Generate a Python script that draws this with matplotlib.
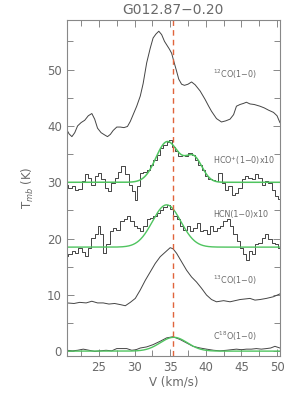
import numpy as np
import matplotlib
matplotlib.use("Agg")
import matplotlib.pyplot as plt
from matplotlib.ticker import MultipleLocator

# ---------------- data ----------------
title = "G012.87\u22120.20"
v_sys = 35.4

co12_v = [20.5, 20.8, 21.2, 21.6, 22.0, 22.5, 23.0, 23.5, 24.0, 24.4, 24.8, 25.3, 25.8, 26.2,
          26.6, 27.0, 27.5, 28.0, 28.5, 29.0, 29.4, 29.8, 30.3, 30.8, 31.2, 31.7, 32.2, 32.6,
          33.0, 33.4, 33.8, 34.2, 34.5, 34.9, 35.2, 35.5, 35.9, 36.2, 36.6, 37.0, 37.5, 38.0,
          38.5, 39.2, 39.9, 40.4, 40.8, 41.5, 42.2, 42.8, 43.4, 43.9, 44.3, 44.8, 45.3, 45.7,
          46.2, 46.8, 47.6, 48.2, 48.8, 49.5, 50.0, 50.4]
co12_t = [39.3, 38.6, 38.1, 38.8, 40.0, 40.6, 41.0, 41.8, 42.2, 41.2, 39.6, 38.8, 38.4, 38.1,
          38.5, 39.2, 39.8, 39.8, 39.7, 39.9, 40.8, 42.0, 43.5, 45.3, 47.5, 51.2, 53.8, 55.6,
          56.3, 56.8, 56.2, 55.0, 54.4, 53.6, 52.9, 51.5, 49.7, 48.3, 47.4, 47.2, 47.4, 47.8,
          47.3, 46.2, 44.7, 43.5, 42.6, 41.3, 40.7, 40.9, 41.2, 42.0, 43.5, 43.8, 44.0, 44.2,
          43.9, 43.8, 43.5, 43.2, 42.8, 42.4, 41.8, 40.6]

hco_v = [20.5, 20.9, 21.4, 21.9, 22.3, 22.8, 23.3, 23.7, 24.2, 24.7, 25.1, 25.6, 26.1, 26.5,
         27.0, 27.5, 27.9, 28.4, 28.9, 29.4, 29.8, 30.2, 30.5, 31.0, 31.5, 31.9, 32.4, 32.9,
         33.3, 33.8, 34.3, 34.7, 35.0, 35.4, 35.9, 36.4, 36.8, 37.3, 37.8, 38.2, 38.7, 39.2,
         39.7, 40.1, 40.6, 41.1, 41.5, 42.0, 42.5, 42.9, 43.4, 43.9, 44.3, 44.8, 45.3, 45.7,
         46.2, 46.7, 47.1, 47.6, 48.1, 48.5, 49.0, 49.5, 50.0, 50.4]
hco_t = [29.6, 29.0, 29.3, 28.7, 28.8, 30.2, 31.4, 30.8, 29.6, 31.1, 31.7, 30.5, 29.0, 28.4,
         29.9, 30.8, 31.9, 32.9, 31.4, 29.6, 28.4, 26.9, 29.3, 31.7, 31.9, 32.2, 33.1, 34.0,
         34.9, 36.1, 36.6, 37.2, 37.5, 36.3, 35.5, 34.6, 34.9, 34.6, 35.2, 34.9, 34.0, 33.1,
         32.2, 31.1, 30.6, 30.4, 30.2, 31.7, 29.9, 28.7, 29.3, 27.8, 28.1, 29.0, 30.5, 31.1,
         30.8, 30.5, 31.4, 30.8, 29.6, 30.2, 29.9, 28.7, 27.5, 27.1]

hcn_v = [20.5, 20.9, 21.4, 21.9, 22.3, 22.8, 23.3, 23.7, 24.2, 24.7, 25.0, 25.4, 25.8, 26.3,
         26.8, 27.2, 27.7, 28.2, 28.7, 29.1, 29.6, 30.1, 30.5, 31.0, 31.5, 31.9, 32.4, 32.9,
         33.3, 33.8, 34.3, 34.7, 35.2, 35.7, 36.1, 36.6, 37.1, 37.5, 38.0, 38.5, 38.9, 39.4,
         39.9, 40.3, 40.8, 41.3, 41.8, 42.2, 42.7, 43.2, 43.6, 44.1, 44.6, 45.0, 45.5, 45.8,
         46.2, 46.7, 47.1, 47.6, 48.1, 48.5, 49.0, 49.5, 50.0, 50.4]
hcn_t = [16.9, 17.2, 17.8, 17.5, 18.4, 17.7, 16.9, 18.4, 20.2, 20.9, 22.2, 20.8, 17.5, 19.0,
         21.3, 21.9, 21.6, 23.1, 23.4, 24.0, 23.1, 22.2, 21.9, 21.3, 22.2, 23.4, 23.7, 24.0,
         24.6, 25.0, 25.7, 25.9, 25.2, 24.0, 23.4, 22.2, 21.6, 22.2, 21.3, 21.9, 22.8, 21.3,
         21.6, 20.8, 22.2, 21.3, 21.9, 22.2, 23.1, 23.4, 22.2, 20.8, 19.6, 18.4, 17.2, 16.3,
         17.8, 17.2, 19.0, 19.3, 20.2, 20.8, 19.9, 19.3, 19.0, 18.4]

co13_v = [20.5, 21.5, 22.3, 23.2, 24.0, 24.8, 25.6, 26.4, 27.2, 28.0, 28.7, 29.4, 30.1, 30.8,
          31.5, 32.2, 32.9, 33.6, 34.3, 35.0, 35.4, 35.9, 36.6, 37.3, 38.0, 38.7, 39.4, 40.1,
          40.8, 41.5, 42.5, 43.4, 44.1, 44.8, 45.5, 46.2, 46.9, 47.6, 48.5, 49.5, 50.4]
co13_t = [8.6, 8.5, 8.7, 8.6, 8.9, 8.6, 8.6, 8.4, 8.5, 8.3, 8.1, 8.7, 9.4, 10.9,
          12.6, 14.1, 15.6, 16.8, 17.6, 18.4, 18.2, 17.4, 15.9, 14.4, 13.2, 12.3, 11.2, 10.0,
          9.2, 8.8, 9.0, 8.8, 9.0, 9.2, 9.3, 9.4, 9.1, 9.2, 9.4, 9.7, 10.2]

c18o_v = [20.5, 21.3, 22.0, 22.8, 23.6, 24.4, 25.2, 26.0, 26.8, 27.5, 28.2, 28.9, 29.6, 30.2,
          30.8, 31.7, 32.6, 33.6, 34.5, 35.4, 36.4, 37.3, 38.2, 39.2, 40.1, 41.1, 42.0, 42.9,
          43.6, 44.3, 45.0, 45.7, 46.4, 47.1, 47.8, 48.5, 49.1, 49.7, 50.4]
c18o_t = [0.2, 0.1, 0.2, 0.4, 0.2, 0.0, 0.1, 0.2, 0.1, 0.5, 0.5, 0.5, 0.2, 0.3,
          0.6, 0.8, 1.2, 1.8, 2.4, 2.6, 2.1, 1.5, 0.9, 0.6, 0.4, 0.2, 0.1, 0.2,
          0.3, 0.4, 0.3, 0.4, 0.4, 0.5, 0.4, 0.5, 0.6, 0.9, 0.6]

# Gaussian fit parameters: baseline, [(amplitude, centre, sigma), ...]
hco_fit_base = 30.0
hco_fit_comps = [(7.2, 34.6, 1.6), (4.3, 38.3, 1.2)]
hcn_fit_base = 18.5
hcn_fit_comps = [(7.5, 34.5, 2.0)]
c18o_fit_base = 0.05
c18o_fit_comps = [(2.45, 35.5, 1.9)]

labels = ["$^{12}$CO(1\u22120)", "HCO$^{+}$(1\u22120)x10", "HCN(1\u22120)x10",
          "$^{13}$CO(1\u22120)", "C$^{18}$O(1\u22120)"]
label_y = [49.1, 33.8, 24.3, 12.6, 2.6]
label_x = 41.0

xticks = [25, 30, 35, 40, 45, 50]
yticks = [0, 10, 20, 30, 40, 50]

# ---------------- plot ----------------
fig = plt.figure(figsize=(3.0, 3.99), dpi=100)
ax = fig.add_axes([0.223, 0.108, 0.71, 0.842])

spec_col = "#444444"
fit_col = "#4fc45f"
txt_col = "#6a6a6a"

def gauss_model(v, base, comps):
    out = np.full_like(v, base, dtype=float)
    for a, c, s in comps:
        out += a * np.exp(-(v - c) ** 2 / (2 * s ** 2))
    return out

vgrid = np.linspace(20.5, 50.4, 400)

ax.plot(co12_v, co12_t, color=spec_col, lw=0.7)
ax.plot(hco_v, hco_t, color=spec_col, lw=0.7, drawstyle="steps-mid")
ax.plot(hcn_v, hcn_t, color=spec_col, lw=0.7, drawstyle="steps-mid")
ax.plot(co13_v, co13_t, color=spec_col, lw=0.7)
ax.plot(c18o_v, c18o_t, color=spec_col, lw=0.7)

ax.plot(vgrid, gauss_model(vgrid, hco_fit_base, hco_fit_comps), color=fit_col, lw=1.1)
ax.plot(vgrid, gauss_model(vgrid, hcn_fit_base, hcn_fit_comps), color=fit_col, lw=1.0)
ax.plot(vgrid, gauss_model(vgrid, c18o_fit_base, c18o_fit_comps), color=fit_col, lw=1.0)

ax.axvline(v_sys, color="#e0643c", lw=1.0, ls=(0, (4, 3)))

for lab, ly in zip(labels, label_y):
    ax.text(label_x, ly, lab, color=txt_col, fontsize=5.8, va="center", ha="left")

ax.set_xlim(20.5, 50.4)
ax.set_ylim(-0.8, 58.8)
ax.set_xticks(xticks)
ax.set_yticks(yticks)
ax.xaxis.set_minor_locator(MultipleLocator(2.5))
ax.yaxis.set_minor_locator(MultipleLocator(5))
ax.tick_params(which="both", direction="in", top=True, right=True, colors="#888888",
               labelcolor=txt_col, labelsize=8.5, width=0.7)
ax.tick_params(which="major", length=5)
ax.tick_params(which="minor", length=4)
for sp in ax.spines.values():
    sp.set_color("#888888")
    sp.set_linewidth(0.8)

ax.set_xlabel("V (km/s)", color=txt_col, fontsize=8.5, labelpad=1)
ax.set_ylabel("T$_{mb}$ (K)", color=txt_col, fontsize=8.5, labelpad=8)
ax.set_title(title, color=txt_col, fontsize=10, pad=4)

fig.savefig("out.png", dpi=100)
